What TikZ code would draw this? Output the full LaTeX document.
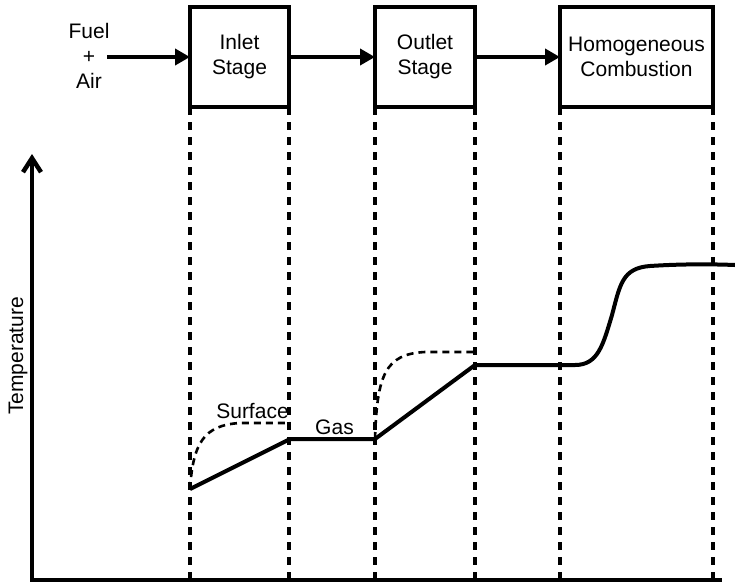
\documentclass[tikz,border=0pt]{standalone}
\usepackage{fontspec}
\setmainfont{Liberation Sans}
\usetikzlibrary{arrows.meta}
\begin{document}
\begin{tikzpicture}[x=1pt,y=-1pt,
  every node/.style={font=\fontsize{21}{25}\selectfont},
  stagebox/.style={draw, line width=3.5pt, outer sep=0pt, inner sep=0pt, minimum height=100pt, align=center},
  flowarrow/.style={line width=4pt, -{Triangle[length=15pt,width=16pt]}},
  divider/.style={line width=3.5pt, dash pattern=on 8pt off 7pt},
  axisline/.style={line width=4.5pt, line join=miter},
  solidcurve/.style={line width=4pt, line join=round},
  dashcurve/.style={line width=2.6pt, dash pattern=on 7pt off 5pt},
  lbl/.style={inner sep=0pt, anchor=base}]
\useasboundingbox (0,0) rectangle (735,582);

% boxes
\node[stagebox, minimum width=99pt] (inlet) at (239.5,57) {Inlet\\Stage};
\node[stagebox, minimum width=100pt] (outlet) at (425,57) {Outlet\\Stage};
\node[stagebox, minimum width=153pt] (homog) at (636.5,57) {Homogeneous\\Combustion};
\node[inner sep=0pt, align=center] (fuel) at (89,56) {Fuel\\+\\Air};

% flow arrows
\coordinate (fstart) at (107,57);
\draw[flowarrow] (fstart) -- (inlet.west);
\draw[flowarrow] (inlet.east) -- (outlet.west);
\draw[flowarrow] (outlet.east) -- (homog.west);

% axes
\coordinate (origin) at (32,580);
\coordinate (ytip) at (32,154);
\coordinate (xend) at (722,580);
\draw[axisline, {Straight Barb[length=14pt,width=18pt]}-] (ytip) -- (origin) -- (xend);
\node[lbl, rotate=90] (templbl) at (23,356) {Temperature};

% dividers
\foreach \b/\c in {inlet/south west, inlet/south east, outlet/south west, outlet/south east, homog/south west, homog/south east}{
  \draw[divider] (\b.\c) -- (\b.\c |- origin);
}

% gas temperature
\coordinate (g0) at (190,489);
\coordinate (g1) at (290,439);
\coordinate (g2) at (375,439);
\coordinate (g3) at (475,365);
\coordinate (g4) at (575,365);
\draw[solidcurve] (g0) -- (g1) -- (g2) -- (g3) -- (g4)
  .. controls (598,365) and (603,345) .. (612,315)
  .. controls (620,285) and (622,268) .. (650,266)
  .. controls (680,264) and (710,264) .. (735,265);

% surface temperature
\draw[dashcurve] (g0) .. controls (193,443) and (204,425) .. (240,423) -- (290,423);
\draw[dashcurve] (g2) .. controls (377,375) and (385,354) .. (425,352) -- (475,352);

\node[lbl] (surf) at (252.5,418) {Surface};
\node[lbl] (gas) at (334.5,434) {Gas};
\end{tikzpicture}
\end{document}
